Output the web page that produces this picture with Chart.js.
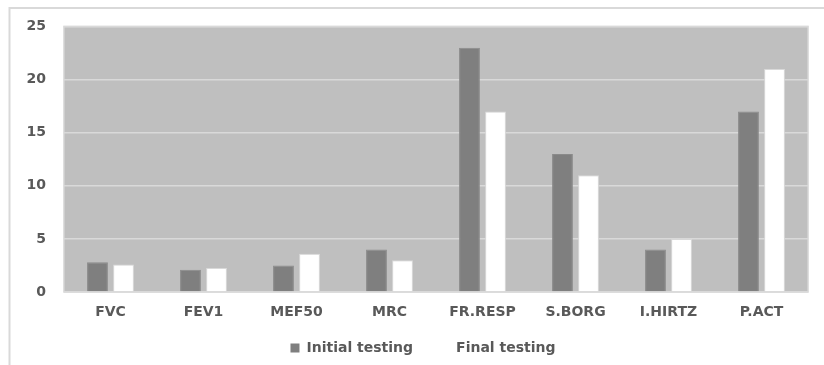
<!DOCTYPE html>
<html>
<head>
<meta charset="utf-8">
<script src="https://cdn.jsdelivr.net/npm/chart.js@4"></script>
<style>
html,body{margin:0;padding:0;background:#fff;}
#wrap{width:824px;height:365px;position:relative;}
</style>
</head>
<body>
<div id="wrap"><canvas id="c" width="824" height="365"></canvas></div>
<script>
const categories = ["FVC","FEV1","MEF50","MRC","FR.RESP","S.BORG","I.HIRTZ","P.ACT"];
const initialTesting = [2.8, 2.1, 2.5, 4, 23, 13, 4, 17];
const finalTesting = [2.6, 2.25, 3.6, 3, 17, 11, 5, 21];
const yTicks = [0, 5, 10, 15, 20, 25];
const seriesNames = ["Initial testing", "Final testing"];

const FONT = "'DejaVu Sans', sans-serif";
const TEXT = "#595959";

const bgPlugin = {
  id: 'bgPlugin',
  afterLayout(chart) {
    const lg = chart.legend;
    if (lg) {
      lg.left += 19; lg.right += 19;
    }
    const x = chart.scales.x;
    x.bottom = x.top + 40;
  },
  beforeDraw(chart) {
    const ctx = chart.ctx, a = chart.chartArea;
    ctx.save();
    ctx.fillStyle = '#fff';
    ctx.fillRect(0, 0, chart.width, chart.height);
    ctx.strokeStyle = '#d9d9d9';
    ctx.lineWidth = 2;
    ctx.beginPath();
    ctx.moveTo(9.5, chart.height);
    ctx.lineTo(9.5, 8);
    ctx.lineTo(chart.width, 8);
    ctx.stroke();
    ctx.fillStyle = '#bfbfbf';
    ctx.fillRect(a.left, a.top, a.right - a.left, a.bottom - a.top);
    ctx.strokeStyle = '#d4d4d4';
    ctx.lineWidth = 1.5;
    ctx.strokeRect(a.left, a.top, a.right - a.left, a.bottom - a.top);
    ctx.restore();
  }
};

new Chart(document.getElementById('c'), {
  type: 'bar',
  data: {
    labels: categories,
    datasets: [
      { label: seriesNames[0], data: initialTesting, backgroundColor: '#7f7f7f', borderColor: '#8a8a8a', borderWidth: 1 },
      { label: seriesNames[1], data: finalTesting, backgroundColor: '#ffffff', borderColor: '#d9d9d9', borderWidth: 1 }
    ]
  },
  options: {
    responsive: false,
    animation: false,
    devicePixelRatio: 1,
    layout: { padding: { top: 24, right: 16, left: 0, bottom: 0 } },
    datasets: { bar: { barPercentage: 0.8, categoryPercentage: 0.56 } },
    plugins: {
      tooltip: { enabled: false },
      legend: {
        position: 'bottom',
        labels: {
          font: { family: FONT, size: 14, weight: 'bold' },
          color: TEXT,
          boxWidth: 9,
          boxHeight: 9,
          padding: 27,
          generateLabels(chart) {
            return chart.data.datasets.map((d, i) => ({
              text: d.label,
              fillStyle: i === 0 ? '#7f7f7f' : '#ffffff',
              strokeStyle: i === 0 ? '#7f7f7f' : '#ffffff',
              lineWidth: 0,
              fontColor: TEXT,
              datasetIndex: i,
              hidden: false
            }));
          }
        }
      }
    },
    scales: {
      x: {
        grid: { display: false, drawTicks: false },
        border: { display: false },
        ticks: { font: { family: FONT, size: 14, weight: 'bold' }, color: TEXT, padding: 12 },
        afterFit(s) { s.height = 22; }
      },
      y: {
        min: 0, max: 25,
        grid: { color: '#d9d9d9', lineWidth: 1.5, drawTicks: false },
        border: { display: false },
        ticks: {
          font: { family: FONT, size: 14, weight: 'bold' }, color: TEXT, padding: 18,
          stepSize: 5,
          callback: (v) => yTicks.includes(v) ? String(v) : ''
        },
        afterFit(s) { s.width = 64; }
      }
    }
  },
  plugins: [bgPlugin]
});
</script>
</body>
</html>
